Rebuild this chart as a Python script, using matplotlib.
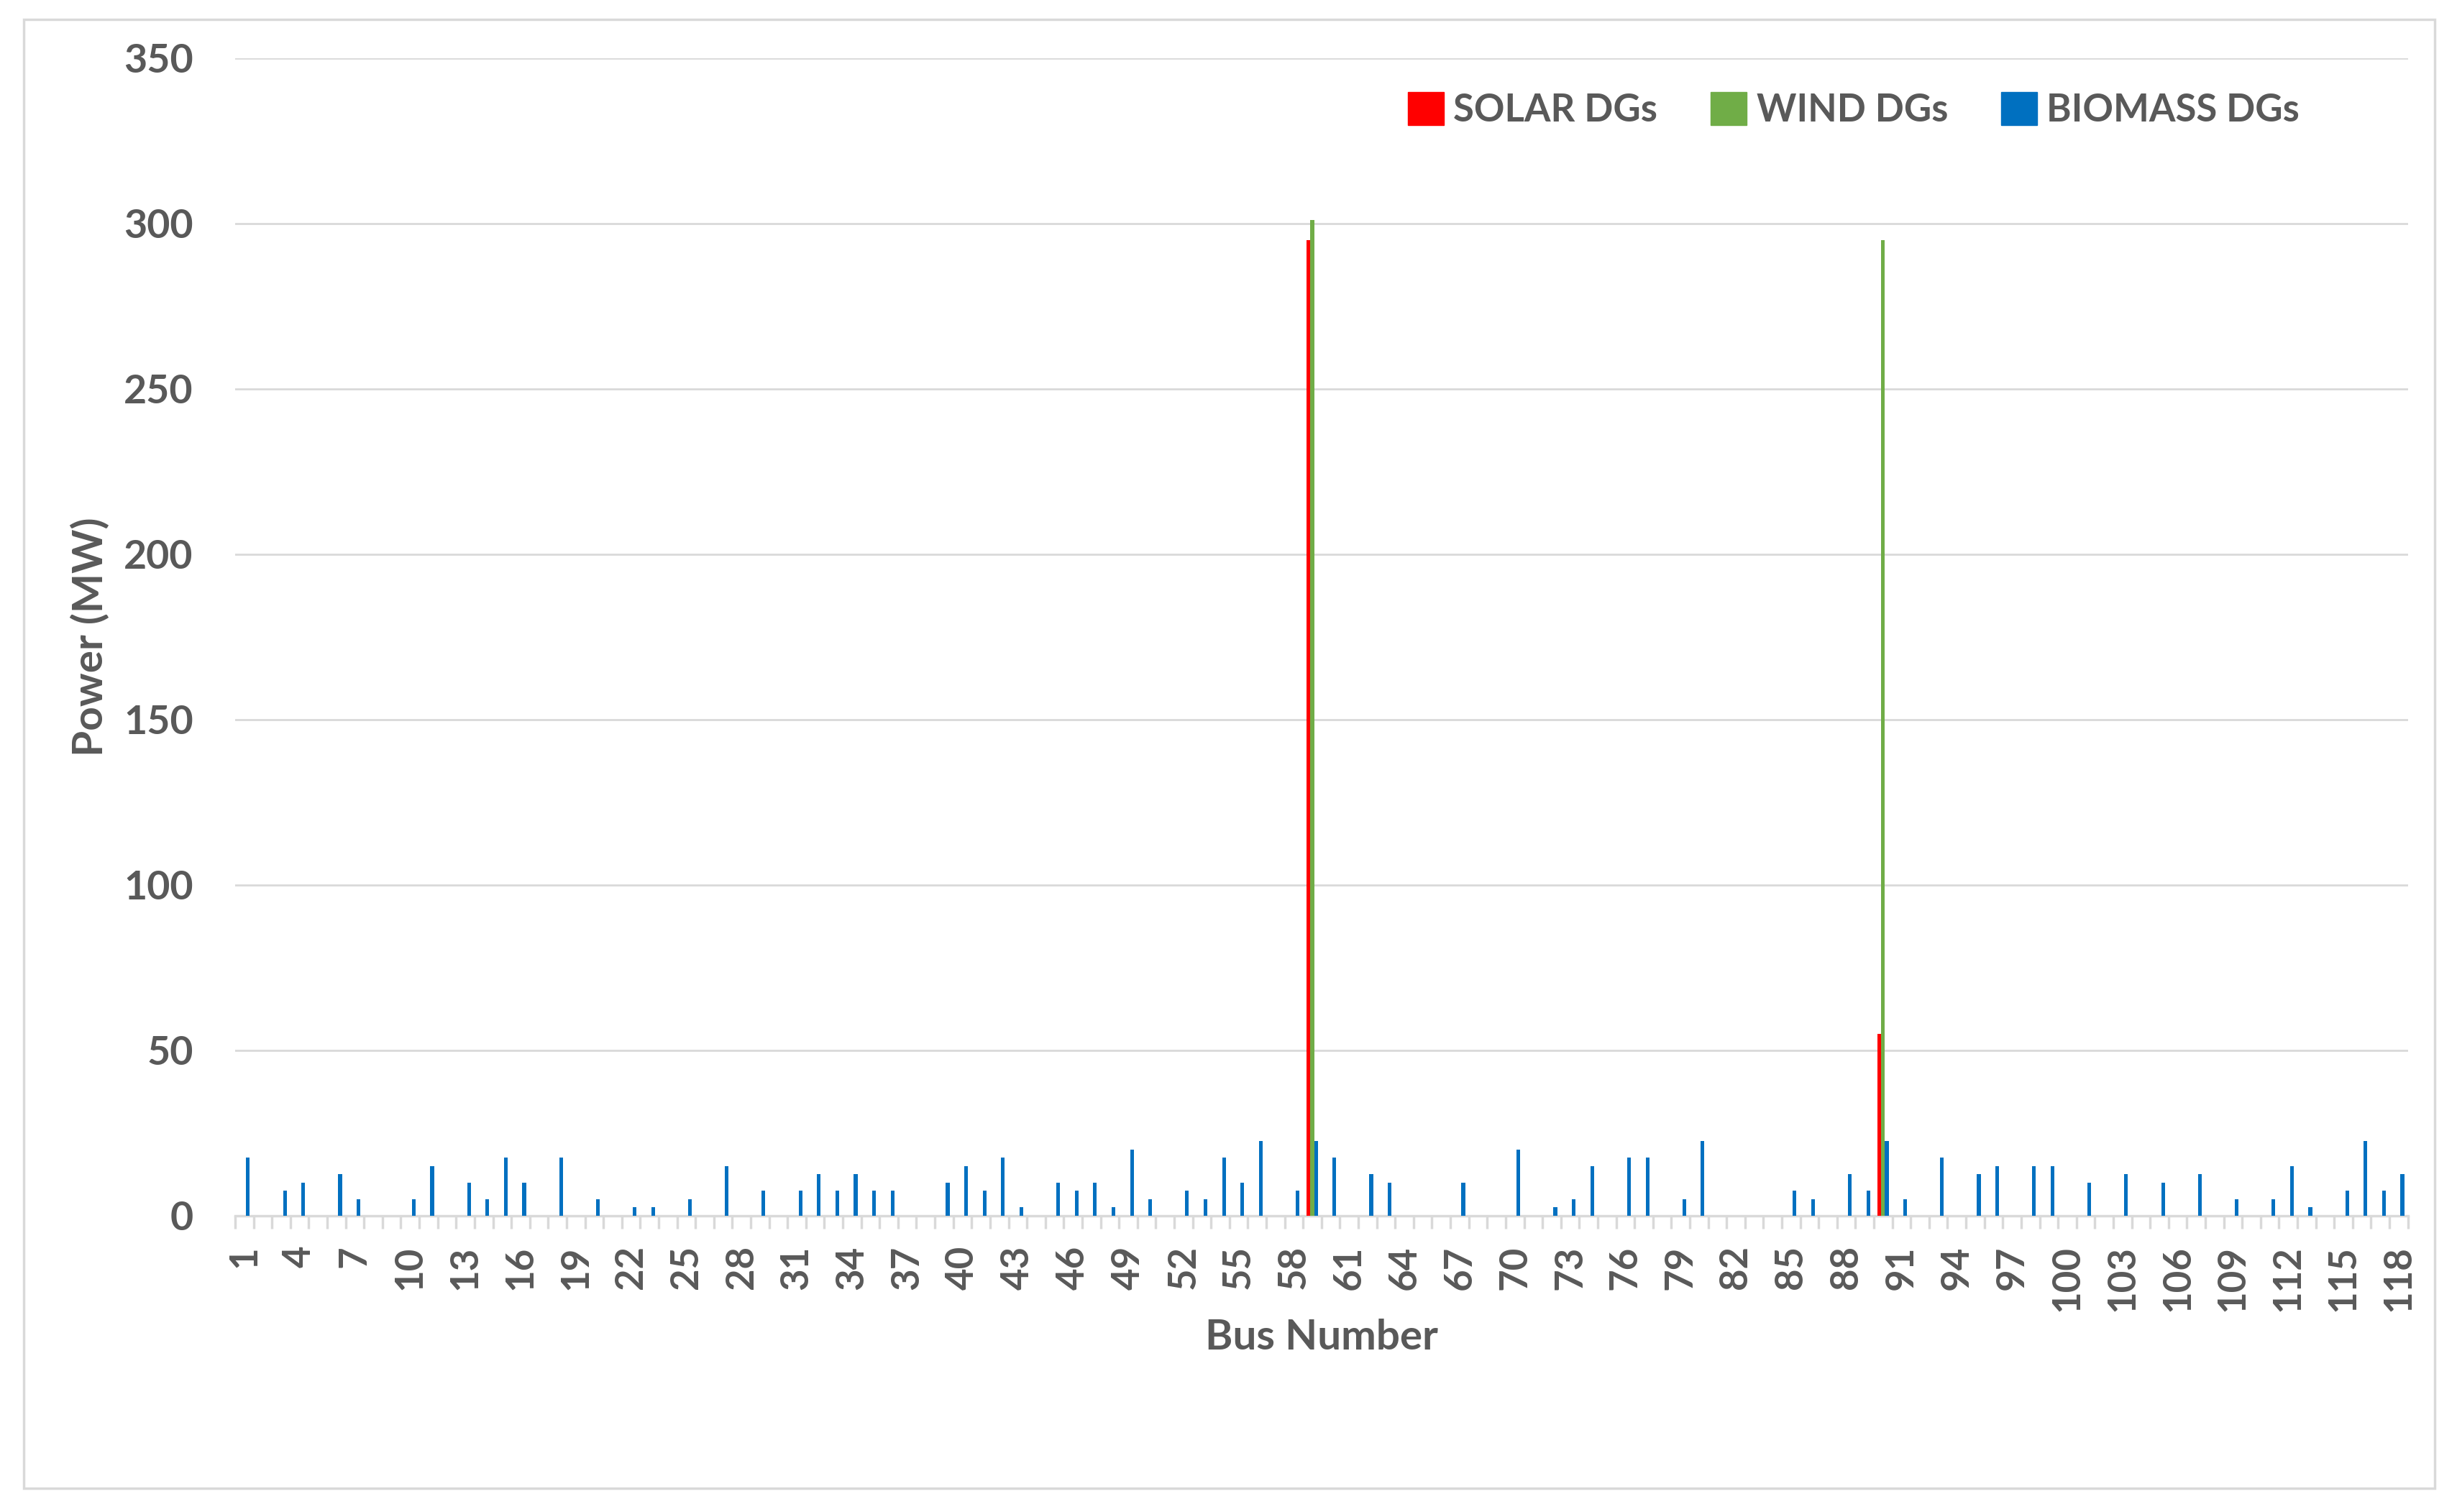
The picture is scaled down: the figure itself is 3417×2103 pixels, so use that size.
import numpy as np
import matplotlib
matplotlib.use('Agg')
import matplotlib.pyplot as plt
from matplotlib.patches import Rectangle, Patch

plt.rcParams['font.family'] = ['Lato', 'DejaVu Sans']
plt.rcParams['font.weight'] = 'bold'

# data (MW per bus)
buses = np.arange(1, 119)

solar_buses = [59, 90]
solar_mw = [295, 55]

wind_buses = [59, 90]
wind_mw = [301, 295]

biomass_buses = [1, 3, 4, 6, 7, 10, 11, 13, 14, 15, 16, 18, 20, 22, 23, 25, 27, 29,
                 31, 32, 33, 34, 35, 36, 39, 40, 41, 42, 43, 45, 46, 47, 48, 49, 50,
                 52, 53, 54, 55, 56, 58, 59, 60, 62, 63, 67, 70, 72, 73, 74, 76, 77,
                 79, 80, 85, 86, 88, 89, 90, 91, 93, 95, 96, 98, 99, 101, 103, 105,
                 107, 109, 111, 112, 113, 115, 116, 117, 118]
biomass_mw = [17.5, 7.5, 10, 12.5, 5, 5, 15, 10, 5, 17.5, 10, 17.5, 5, 2.5, 2.5, 5, 15, 7.5,
              7.5, 12.5, 7.5, 12.5, 7.5, 7.5, 10, 15, 7.5, 17.5, 2.5, 10, 7.5, 10, 2.5, 20, 5,
              7.5, 5, 17.5, 10, 22.5, 7.5, 22.5, 17.5, 12.5, 10, 10, 20, 2.5, 5, 15, 17.5, 17.5,
              5, 22.5, 7.5, 5, 12.5, 7.5, 22.5, 5, 17.5, 12.5, 15, 15, 15, 10, 12.5, 10,
              12.5, 5, 5, 15, 2.5, 7.5, 22.5, 7.5, 12.5]


def full_series(idx, vals):
    s = np.zeros(len(buses))
    s[np.array(idx) - 1] = vals
    return s


solar = full_series(solar_buses, solar_mw)
wind = full_series(wind_buses, wind_mw)
biomass = full_series(biomass_buses, biomass_mw)

txt = '#595959'
grid = '#D9D9D9'

fig = plt.figure(figsize=(34.17, 21.03), dpi=100)
fig.patches.append(Rectangle((0.0097, 0.0157), 0.9812, 0.9715, transform=fig.transFigure,
                             fill=False, edgecolor=grid, linewidth=2.5))

ax = fig.add_axes([0.0957, 0.196, 0.8843, 0.7655])
w = 0.2
ax.bar(buses - w, solar, width=w, color='#FF0000', label='SOLAR DGs', zorder=3)
ax.bar(buses, wind, width=w, color='#70AD47', label='WIND DGs', zorder=3)
ax.bar(buses + w, biomass, width=w, color='#0070C0', label='BIOMASS DGs', zorder=3)

ax.set_xlim(0.5, 118.5)
ax.set_ylim(0, 350)
ax.set_yticks(np.arange(0, 351, 50))
ax.yaxis.grid(True, color=grid, linewidth=2)
ax.set_axisbelow(True)
for sp in ['top', 'right', 'left']:
    ax.spines[sp].set_visible(False)
ax.spines['bottom'].set_color(grid)
ax.spines['bottom'].set_linewidth(2.5)

# category boundary ticks, labels every third bus
ax.set_xticks(np.arange(0.5, 119, 1))
ax.set_xticklabels([])
ax.tick_params(axis='x', which='major', length=13, width=2.5, color=grid)
ax.set_xticks(buses[::3], minor=True)
ax.set_xticklabels([str(b) for b in buses[::3]], minor=True, rotation=90, fontweight='bold')
ax.tick_params(axis='x', which='minor', length=0, pad=30, labelsize=38, labelcolor=txt)
ax.tick_params(axis='y', length=0, pad=42, labelsize=40, labelcolor=txt)
for lb in ax.get_yticklabels():
    lb.set_fontweight('bold')

ax.set_ylabel('Power (MW)', fontsize=42, color=txt, va='center', fontweight='bold')
ax.yaxis.set_label_coords(-0.0665, 0.5)
ax.set_xlabel('Bus Number', fontsize=42, color=txt, va='center', fontweight='bold')
ax.xaxis.set_label_coords(0.5, -0.1056)

handles = [Patch(color='#FF0000'), Patch(color='#70AD47'), Patch(color='#0070C0')]
ax.legend(handles, ['SOLAR DGs', 'WIND DGs', 'BIOMASS DGs'], loc='center',
          bbox_to_anchor=(0.745, 0.955), ncol=3, frameon=False,
          prop={'size': 38, 'weight': 'bold'}, labelcolor=txt,
          handlelength=0.95, handleheight=0.95, handletextpad=0.25, columnspacing=1.4)

fig.savefig('out.png', dpi=100)
